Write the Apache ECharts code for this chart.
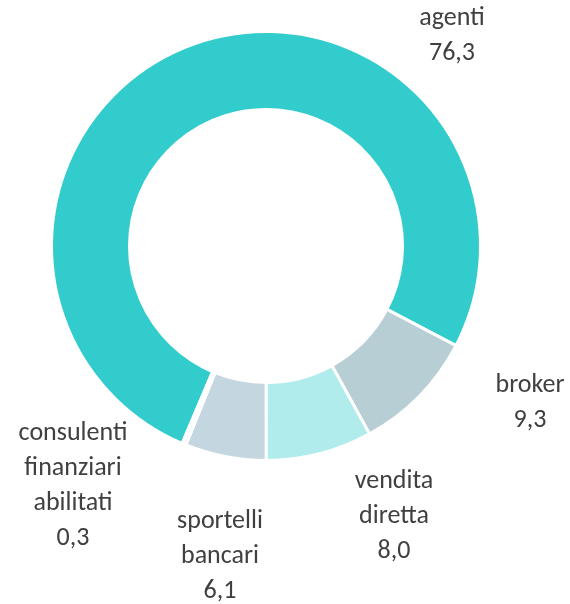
<!DOCTYPE html>
<html>
<head>
<meta charset="utf-8">
<style>
  html, body { margin: 0; padding: 0; background: #fff; }
  #chart { width: 570px; height: 604px; }
</style>
<script src="https://cdn.jsdelivr.net/npm/echarts@6/dist/echarts.min.js"></script>
</head>
<body>
<div id="chart"></div>
<script>
  // canali distributivi (quote %)
  var categories = ['agenti', 'broker', 'vendita diretta', 'sportelli bancari', 'consulenti finanziari abilitati']
  var values = [76.3, 9.3, 8.0, 6.1, 0.3]

  var colors = ['#33CCCC', '#B7CED4', '#B0ECEC', '#C4D6DF', '#F4F7F8']
  // label centres in px, same order as categories
  var labelPos = [[452, 36], [530, 403], [394, 516], [220, 556], [73, 486]]

  var chart = echarts.init(document.getElementById('chart'))

  chart.setOption({
    animation: false,
    color: colors,
    series: [
      {
        type: 'pie',
        center: [266, 246],
        radius: [136.5, 214.5],
        startAngle: 247,
        clockwise: true,
        avoidLabelOverlap: false,
        itemStyle: {
          borderColor: '#fff',
          borderWidth: 3
        },
        label: {
          show: true,
          position: 'outside',
          fontFamily: 'Carlito, Lato, sans-serif',
          fontSize: 26,
          lineHeight: 35,
          color: '#404040',
          align: 'center',
          formatter: function (p) {
            return p.name.split(' ').join('\n') + '\n' + p.value.toFixed(1).replace('.', ',')
          }
        },
        labelLine: { show: false },
        labelLayout: function (p) {
          var pos = labelPos[p.dataIndex]
          return {
            x: pos[0],
            y: pos[1],
            align: 'center',
            verticalAlign: 'middle'
          }
        },
        data: categories.map(function (name, i) {
          return { name: name, value: values[i] }
        })
      }
    ]
  })
</script>
</body>
</html>
